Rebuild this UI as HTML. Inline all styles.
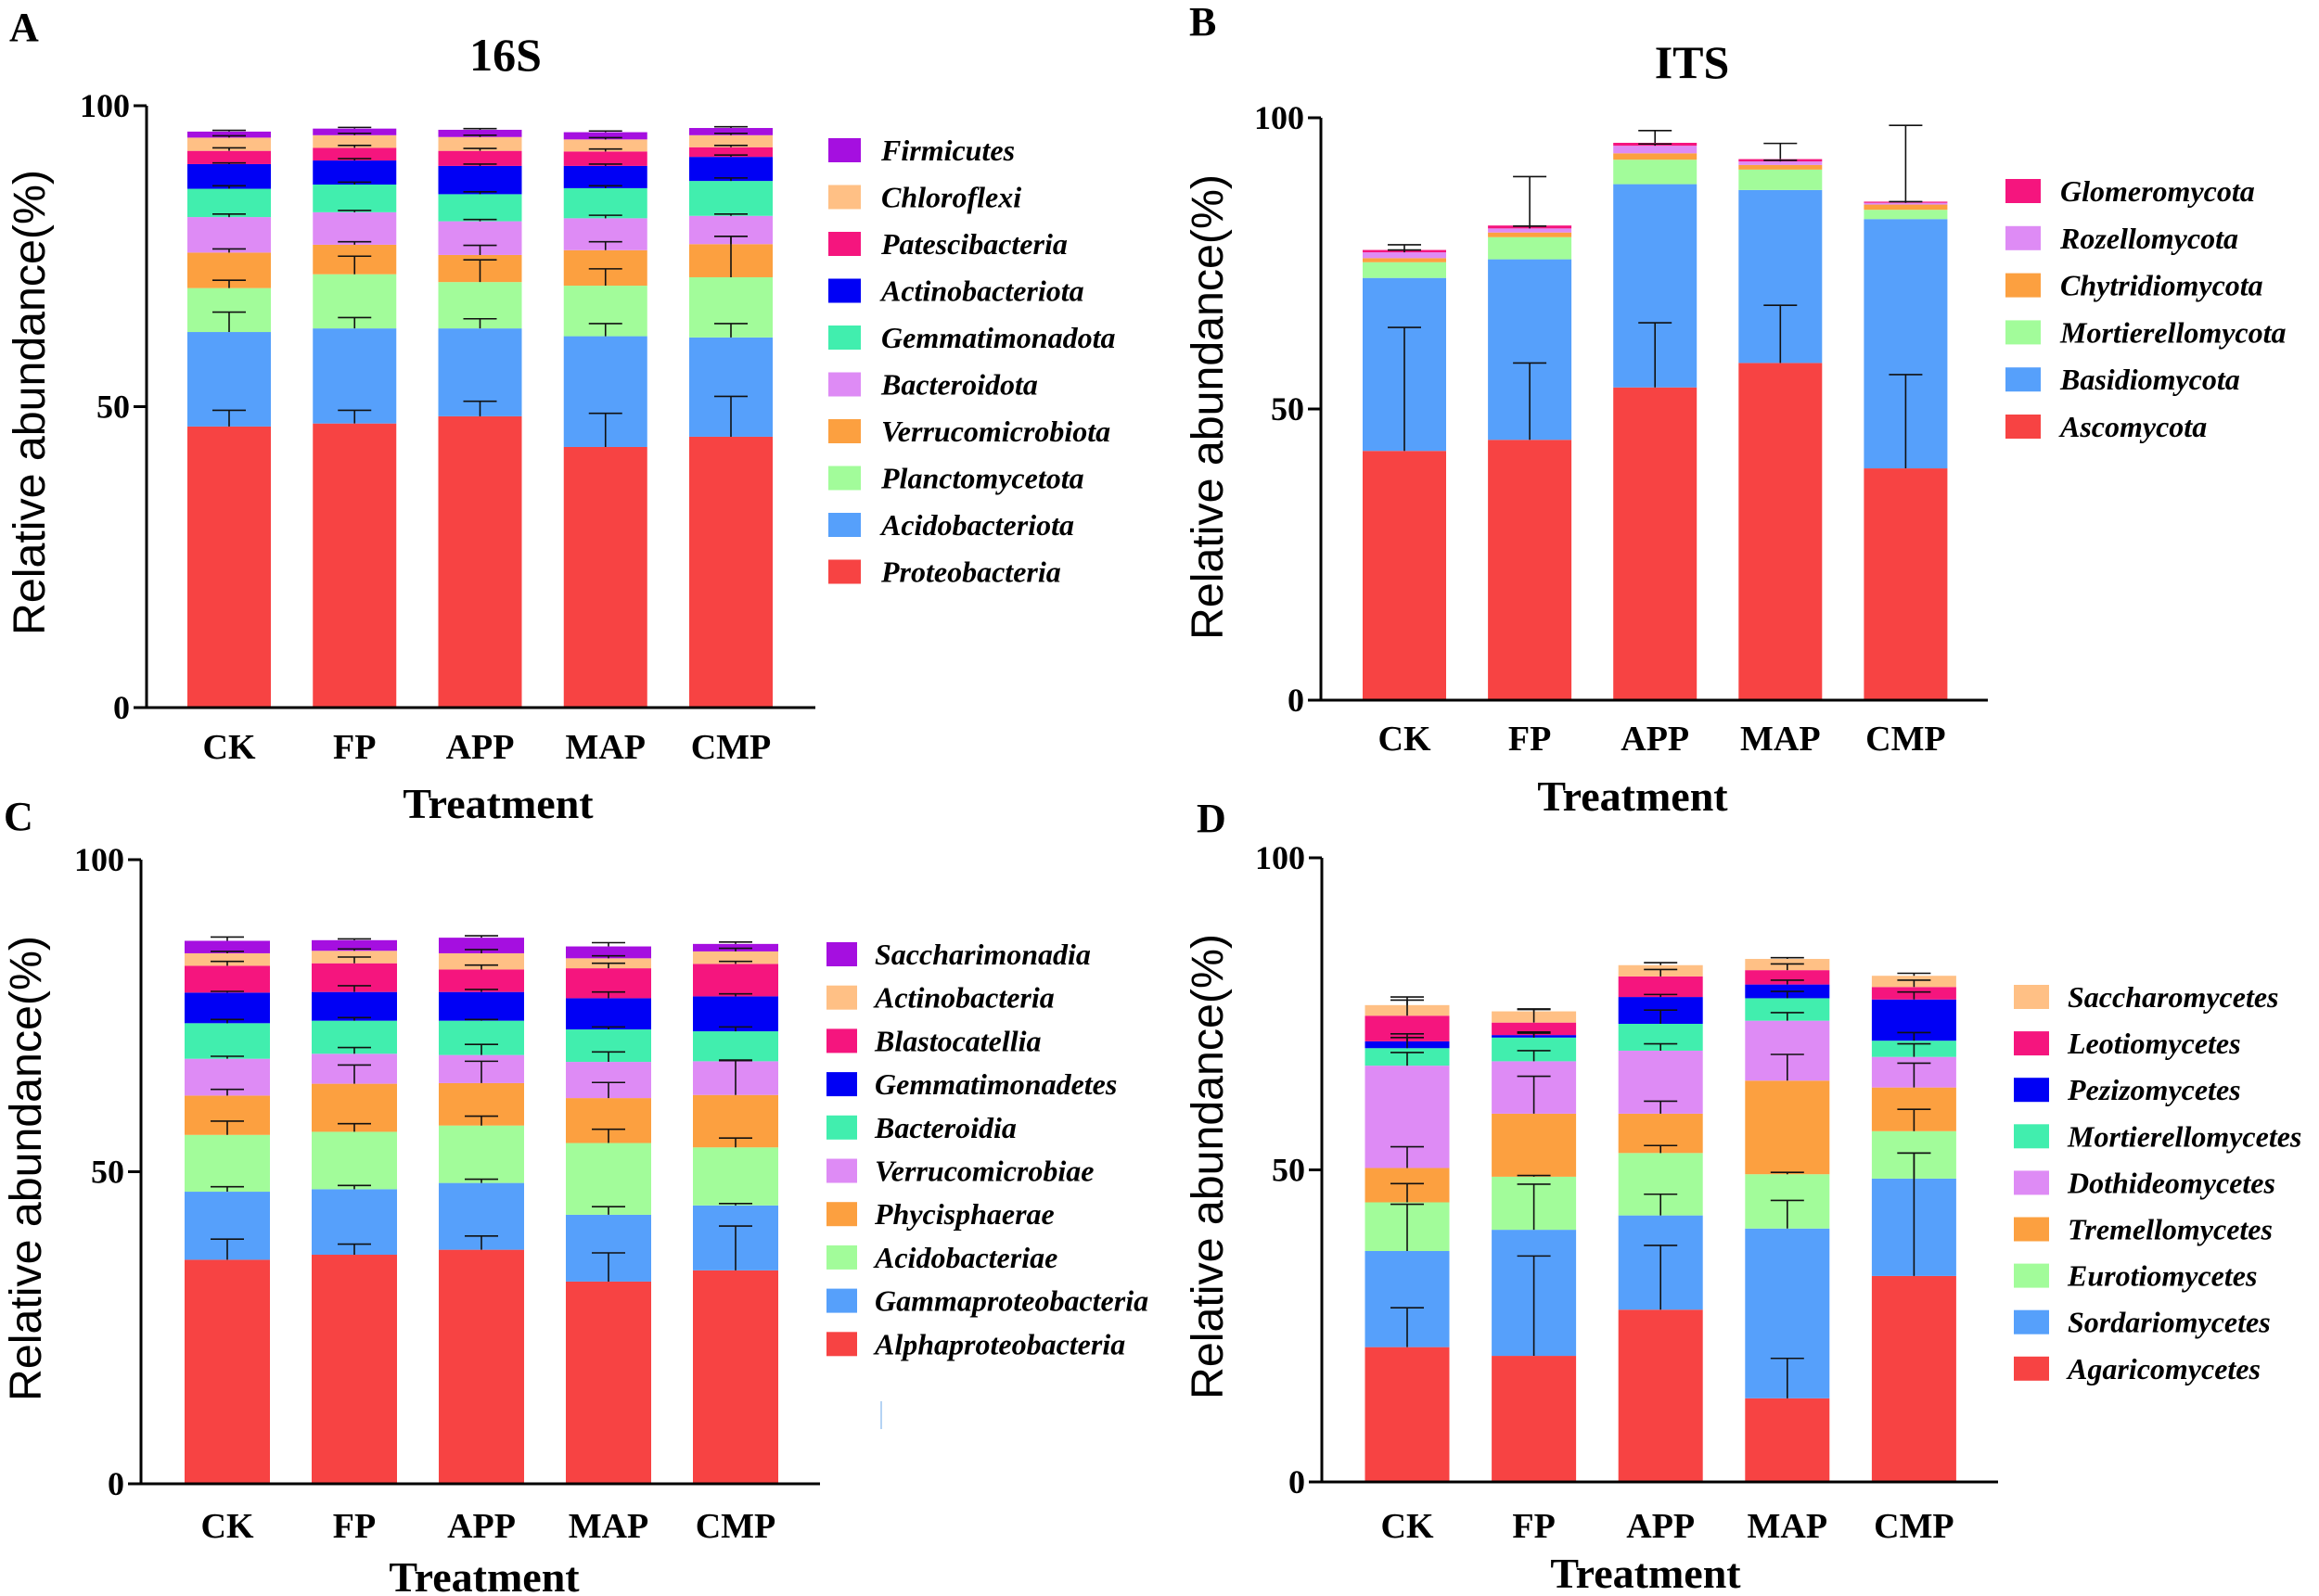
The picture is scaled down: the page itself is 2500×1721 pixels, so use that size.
<!DOCTYPE html>
<html><head><meta charset="utf-8"><style>
html,body{margin:0;padding:0;background:#fff;}
svg{display:block;}
.tick{font-family:"Liberation Serif",serif;font-weight:bold;font-size:36px;}
.xl{font-family:"Liberation Serif",serif;font-weight:bold;font-size:38px;}
.ttl{font-family:"Liberation Serif",serif;font-weight:bold;font-size:46px;}
.lg{font-family:"Liberation Serif",serif;font-weight:bold;font-style:italic;font-size:32px;}
.yt{font-family:"Liberation Sans",sans-serif;font-size:48px;}
</style></head><body>
<svg id="fig" width="2500" height="1721" viewBox="0 0 2500 1721" xmlns="http://www.w3.org/2000/svg"></svg>
<script>
// ---------- DATA ----------
const categories = ["CK","FP","APP","MAP","CMP"];
const yTicks = [0,50,100];

// Panel A (16S phylum) cumulative tops (%)
const aSeries = ["Proteobacteria","Acidobacteriota","Planctomycetota","Verrucomicrobiota","Bacteroidota","Gemmatimonadota","Actinobacteriota","Patescibacteria","Chloroflexi","Firmicutes"];
const aCum = [
  [46.7,47.2,48.4,43.3,45.0],
  [62.4,63.0,63.0,61.7,61.5],
  [69.7,72.0,70.7,70.1,71.5],
  [75.6,76.9,75.2,76.0,77.0],
  [81.5,82.3,80.8,81.3,81.7],
  [86.2,86.9,85.3,86.3,87.5],
  [90.3,90.9,90.0,90.0,91.5],
  [92.5,93.0,92.5,92.4,93.1],
  [94.7,95.1,94.8,94.4,95.1],
  [95.7,96.2,96.0,95.6,96.3]];
const aErr = [
  [2.7,2.2,2.5,5.6,6.7],[3.3,1.8,1.6,2.1,2.3],[1.3,3.0,3.7,2.8,6.8],[0.6,0.5,1.6,1.4,1.3],[0.5,0.3,0.3,0.5,0.3],
  [0.5,0.4,0.4,0.4,0.5],[0.2,0.3,0.3,0.3,0.3],[0.5,0.4,0.4,0.4,0.3],[0.3,0.3,0.3,0.3,0.3],[0.2,0.2,0.2,0.2,0.2]];

// Panel B (ITS phylum)
const bSeries = ["Ascomycota","Basidiomycota","Mortierellomycota","Chytridiomycota","Rozellomycota","Glomeromycota"];
const bCum = [
  [42.8,44.7,53.7,57.9,39.8],
  [72.5,75.7,88.6,87.6,82.6],
  [75.2,79.5,92.8,91.1,84.2],
  [75.9,80.3,93.9,91.9,85.1],
  [76.9,81.0,95.2,92.5,85.4],
  [77.3,81.5,95.7,92.9,85.6]];
const bErr = [
  [21.2,13.2,11.1,9.9,16.1],[0,0,0,0,0],[0,0,0,0,0],[0,0,0,0,0],[0.4,0.4,0.3,0.2,0.2],[0.9,8.4,2.1,2.7,13.1]];

// Panel C (16S class)
const cSeries = ["Alphaproteobacteria","Gammaproteobacteria","Acidobacteriae","Phycisphaerae","Verrucomicrobiae","Bacteroidia","Gemmatimonadetes","Blastocatellia","Actinobacteria","Saccharimonadia"];
const cCum = [
  [35.9,36.7,37.5,32.4,34.2],
  [46.8,47.2,48.2,43.1,44.6],
  [55.9,56.4,57.4,54.6,53.9],
  [62.2,64.1,64.2,61.8,62.3],
  [68.1,68.9,68.7,67.6,67.7],
  [73.8,74.2,74.2,72.8,72.5],
  [78.7,78.8,78.8,77.8,78.1],
  [83.0,83.4,82.4,82.6,83.3],
  [85.0,85.4,85.0,84.2,85.3],
  [87.0,87.1,87.5,86.1,86.5]];
const cErr = [
  [3.3,1.7,2.2,4.6,7.1],[0.8,0.6,0.6,1.3,0.3],[2.2,1.3,1.5,2.2,1.5],[1.0,3.0,3.5,2.5,5.5],[0.4,1.0,1.7,1.6,0.2],
  [0.6,0.5,0.2,0.4,0.7],[0.2,1.0,0.4,1.0,0.4],[0.7,1.0,0.7,0.8,0.4],[0.3,0.3,0.6,0.4,0.5],[0.6,0.2,0.3,0.6,0.3]];

// Panel D (ITS class)
const dSeries = ["Agaricomycetes","Sordariomycetes","Eurotiomycetes","Tremellomycetes","Dothideomycetes","Mortierellomycetes","Pezizomycetes","Leotiomycetes","Saccharomycetes"];
const dCum = [
  [21.6,20.2,27.6,13.4,33.0],
  [37.0,40.4,42.7,40.6,48.6],
  [44.8,48.9,52.7,49.3,56.2],
  [50.3,59.0,59.0,64.3,63.2],
  [66.7,67.4,69.1,73.9,68.1],
  [69.5,71.2,73.4,77.5,70.7],
  [70.6,71.6,77.7,79.7,77.3],
  [74.7,73.6,81.0,82.0,79.3],
  [76.4,75.4,82.8,83.8,81.1]];
const dErr = [
  [6.3,16.0,10.3,6.4,19.7],[7.5,7.3,3.4,4.5,4.1],[3.0,0.2,1.2,0.3,3.5],[3.4,6.0,2.0,4.2,3.9],[2.1,1.7,1.1,1.3,2.1],
  [2.3,0.7,2.2,1.1,1.3],[0.6,0.5,0.4,0.7,1.2],[2.5,2.2,1.1,1.0,1.1],[1.3,0.3,0.4,0.2,0.4]];

// ---------- RENDER ----------
const RED="#F74343",BLUE="#56A0FB",LGREEN="#A2FC9A",ORANGE="#FCA040",LAV="#DE8BF5",TEAL="#41EEAE",DBLUE="#0000F5",PINK="#F5157E",PEACH="#FFC085",PURPLE="#A50FE0";
const NS="http://www.w3.org/2000/svg";
const svg=document.getElementById('fig');
function mk(tag,attrs,parent,text){const e=document.createElementNS(NS,tag);for(const k in attrs)e.setAttribute(k,attrs[k]);if(text!==undefined)e.textContent=text;(parent||svg).appendChild(e);return e;}

function panel(p){
  const g=mk('g',{});
  
  
  const y=v=>p.y0-(v/100)*(p.y0-p.y100);
  const xc=i=>p.ax+p.off+i*p.step;
  // bars
  p.cum.forEach((row,s)=>{
    row.forEach((top,i)=>{
      const bot=s===0?0:p.cum[s-1][i];
      const r=mk('rect',{x:xc(i)-p.bw/2,y:y(top),width:p.bw,height:Math.max(0,y(bot)-y(top)),fill:p.colors[s]},g);
      
      
    });
  });
  // error bars
  p.err.forEach((row,s)=>{
    row.forEach((e,i)=>{
      if(e<=0)return;
      const top=p.cum[s][i];
      const l=mk('path',{d:`M${xc(i)},${y(top)}V${y(top+e)}M${xc(i)-18},${y(top+e)}H${xc(i)+18}`,stroke:'#111','stroke-width':1.6,fill:'none'},g);
      
      
    });
  });
  // axes
  const ax=mk('path',{d:`M${p.ax},${p.y100}V${p.y0}H${p.xend}`,stroke:'#000','stroke-width':3,fill:'none'},g);
  
  
  yTicks.forEach(t=>{
    const tk=mk('line',{x1:p.ax-14,x2:p.ax,y1:y(t),y2:y(t),stroke:'#000','stroke-width':3},g);
    
    
    const tl=mk('text',{x:p.ax-18,y:y(t)+12,'text-anchor':'end',class:'tick'},g,String(t));
    
    
  });
  categories.forEach((c,i)=>{
    const t=mk('text',{x:xc(i),y:p.xly,'text-anchor':'middle',class:'xl'},g,c);
    
    
  });
  const xt=mk('text',{x:p.xtx,y:p.xty,'text-anchor':'middle',class:'ttl'},g,'Treatment');
  
  
  const yt=mk('text',{x:0,y:0,'text-anchor':'middle',class:'yt',transform:`translate(${p.ytx},${p.yty}) rotate(-90)`,textLength:502,lengthAdjust:'spacingAndGlyphs'},g,'Relative abundance(%)');
  
  
  if(p.title){
    const tt=mk('text',{x:p.tx,y:p.ty,'text-anchor':'middle',class:'ttl',style:'font-size:50px'},g,p.title);
    
    
  }
  const lt=mk('text',{x:p.lx,y:p.ly,class:'ttl',style:'font-size:44px'},g,p.letter);
  
  
  // legend
  const n=p.series.length;
  for(let k=0;k<n;k++){
    const s=n-1-k, ry=p.legY[k];
    const lg=mk('g',{},g);
    
    
    mk('rect',{x:p.legSx,y:ry-13,width:p.legSw,height:26,fill:p.colors[s]},lg);
    mk('text',{x:p.legTx,y:ry+11,class:'lg'},lg,p.series[s]);
  }
}
function rows(start,step,n){const a=[];for(let i=0;i<n;i++)a.push(start+i*step);return a;}

panel({key:'a',letter:'A',lx:10,ly:44,title:'16S',tx:545,ty:76,ax:158,xend:879,y0:763,y100:114,off:89,step:135.25,bw:90,
  series:aSeries,cum:aCum,err:aErr,colors:[RED,BLUE,LGREEN,ORANGE,LAV,TEAL,DBLUE,PINK,PEACH,PURPLE],
  xly:818,xtx:537,xty:882,ytx:48,yty:434,legSx:893,legSw:35,legTx:950,legY:rows(162,50.5,10)});
panel({key:'b',letter:'B',lx:1282,ly:38,title:'ITS',tx:1824,ty:84,ax:1424,xend:2143,y0:755,y100:127,off:90,step:135.1,bw:90,
  series:bSeries,cum:bCum,err:bErr,colors:[RED,BLUE,LGREEN,ORANGE,LAV,PINK],
  xly:809,xtx:1760,xty:874,ytx:1318,yty:439,legSx:2162,legSw:38,legTx:2221,legY:rows(206,50.8,6)});
panel({key:'c',letter:'C',lx:4,ly:895,title:null,ax:152,xend:884,y0:1600,y100:927,off:93,step:137,bw:92,
  series:cSeries,cum:cCum,err:cErr,colors:[RED,BLUE,LGREEN,ORANGE,LAV,TEAL,DBLUE,PINK,PEACH,PURPLE],
  xly:1658,xtx:522,xty:1716,ytx:44,yty:1260,legSx:891,legSw:33,legTx:943,legY:rows(1029,46.7,10)});
panel({key:'d',letter:'D',lx:1290,ly:897,title:null,ax:1425,xend:2154,y0:1598,y100:925,off:92,step:136.6,bw:91,
  series:dSeries,cum:dCum,err:dErr,colors:[RED,BLUE,LGREEN,ORANGE,LAV,TEAL,DBLUE,PINK,PEACH],
  xly:1658,xtx:1774,xty:1712,ytx:1318,yty:1258,legSx:2171,legSw:38,legTx:2229,legY:rows(1075,50.1,9)});

const stray=mk('line',{x1:950,x2:950,y1:1511,y2:1541,stroke:'#9cc4f0','stroke-width':1.5});


</script>
</body></html>
